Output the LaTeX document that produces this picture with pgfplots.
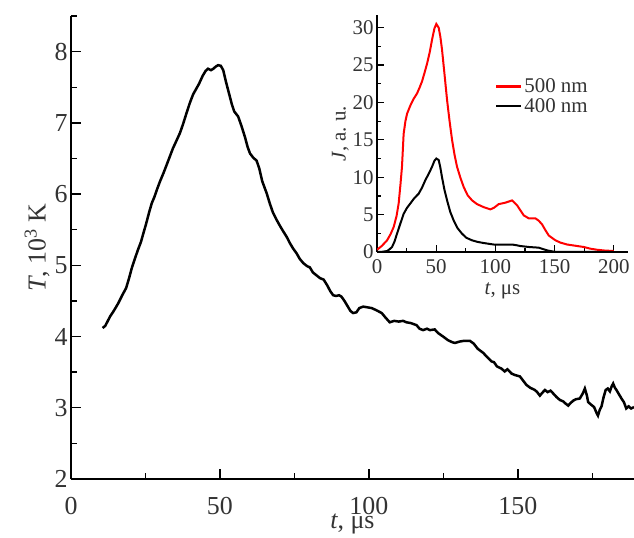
\documentclass[border=0pt]{standalone}
\usepackage{pgfplots}
\pgfplotsset{compat=1.18}
\usepackage{fontspec}
\setmainfont{Liberation Serif}
\begin{document}
\begin{tikzpicture}
\begin{axis}[
  name=main, at={(0,0)}, anchor=south west,
  scale only axis, width=563bp, height=463bp,
  xmin=0, xmax=189, ymin=2, ymax=8.5,
  axis x line*=bottom, axis y line*=left,
  axis line style={line width=1.6bp, -},
  tick align=inside, major tick length=10bp, minor tick length=6bp,
  every tick/.style={line width=1.4bp, black},
  xtick={0,50,100,150}, minor xtick={25,75,125,175},
  ytick={2,3,4,5,6,7,8}, minor ytick={2.5,3.5,4.5,5.5,6.5,7.5,8.5},
  /pgf/number format/assume math mode=true,
  tick label style={font=\fontsize{26}{28}\selectfont, text=black!80},
  xticklabel style={inner sep=2bp, yshift=-16bp},
  label style={font=\fontsize{26}{28}\selectfont, text=black!80},
  xlabel={\textit{t}, μs},
  ylabel={\textit{T}, 10\textsuperscript{3} K},
  xlabel style={inner sep=1bp, yshift=4bp},
  ylabel style={yshift=-2bp},
]
\addplot[black, line width=2.5bp] coordinates {
(10.6,4.12) (11.5,4.15) (13.1,4.28) (14.5,4.37) (15.9,4.47) (17.2,4.58) (18.5,4.68) (19.5,4.82)
(20.4,4.96) (21.5,5.10) (22.5,5.22) (23.5,5.33) (24.3,5.45) (25.2,5.58) (26.2,5.74) (27.1,5.87)
(28.0,5.96) (29.0,6.08) (29.9,6.18) (31.0,6.29) (32.2,6.42) (33.2,6.53) (34.2,6.64) (35.3,6.74)
(36.6,6.86) (37.6,6.98) (38.8,7.14) (39.9,7.28) (41.0,7.40) (42.2,7.49) (43.0,7.55) (44.2,7.66)
(45.2,7.73) (46.0,7.76) (47.0,7.74) (47.8,7.76) (48.6,7.79) (49.4,7.81) (50.3,7.80) (51.1,7.74)
(52.0,7.58) (53.0,7.42) (54.0,7.26) (54.8,7.16) (56.1,7.09) (57.2,6.96) (58.4,6.80) (59.3,6.66)
(60.1,6.57) (61.2,6.51) (62.3,6.47) (63.2,6.36) (64.2,6.18) (65.7,6.01) (66.8,5.86) (67.8,5.74)
(69.0,5.64) (70.2,5.55) (71.2,5.48) (72.4,5.40) (73.5,5.31) (74.5,5.24) (75.7,5.17) (76.8,5.09)
(78.0,5.03) (79.2,4.99) (80.2,4.97) (81.2,4.90) (82.4,4.86) (83.6,4.82) (84.8,4.80) (86.0,4.72)
(87.0,4.64) (88.0,4.58) (89.0,4.57) (90.0,4.58) (90.8,4.56) (91.8,4.50) (92.8,4.43) (93.8,4.36)
(94.7,4.33) (95.8,4.34) (96.8,4.40) (98.1,4.42) (99.5,4.41) (100.9,4.40) (102.5,4.37) (104.3,4.33)
(105.5,4.27) (107.0,4.20) (108.5,4.22) (110.0,4.21) (111.5,4.22) (112.6,4.20) (114.0,4.19) (116.0,4.16)
(117.0,4.11) (118.2,4.09) (119.5,4.11) (120.5,4.09) (122.1,4.10) (123.2,4.05) (124.9,4.00) (126.5,3.95)
(128.0,3.92) (128.9,3.91) (130.5,3.93) (132.0,3.94) (133.9,3.94) (135.2,3.90) (136.5,3.83) (138.4,3.77)
(139.5,3.72) (141.2,3.65) (142.0,3.64) (143.0,3.58) (144.5,3.55) (145.6,3.51) (146.5,3.54) (147.9,3.48)
(149.0,3.46) (150.7,3.44) (151.8,3.38) (152.9,3.32) (154.2,3.28) (155.7,3.25) (156.5,3.22) (157.4,3.17)
(158.2,3.21) (159.1,3.25) (160.0,3.22) (161.0,3.24) (161.9,3.20) (163.0,3.15) (164.1,3.11) (165.2,3.09)
(166.0,3.06) (166.9,3.03) (167.8,3.07) (168.6,3.10) (169.5,3.12) (170.8,3.13) (171.8,3.20) (172.5,3.27)
(173.2,3.17) (173.6,3.08) (174.7,3.04) (175.6,3.01) (176.4,2.93) (176.9,2.89) (177.5,2.97) (178.1,3.02)
(178.8,3.15) (179.5,3.25) (180.2,3.27) (180.9,3.23) (181.5,3.30) (182.0,3.34) (182.6,3.28) (183.1,3.25)
(183.8,3.20) (184.8,3.13) (185.6,3.08) (186.4,2.99) (187.2,3.02) (188.0,2.99) (189.0,3.01)
};
\end{axis}
\begin{axis}[
  name=inset, at={(306bp,227bp)}, anchor=south west,
  scale only axis, width=251bp, height=237bp,
  xmin=0, xmax=212, ymin=0, ymax=31.7,
  axis x line*=bottom, axis y line*=left,
  axis line style={line width=1.4bp, -},
  tick align=inside, major tick length=7bp, minor tick length=4bp,
  every tick/.style={line width=1.2bp, black},
  xtick={0,50,100,150,200}, minor xtick={25,75,125,175},
  ytick={0,5,10,15,20,25,30}, minor ytick={2.5,7.5,12.5,17.5,22.5,27.5},
  /pgf/number format/assume math mode=true,
  tick label style={font=\fontsize{21}{22}\selectfont, text=black!80},
  xticklabel style={yshift=-4bp},
  label style={font=\fontsize{21}{22}\selectfont, text=black!80},
  xlabel={\textit{t}, μs},
  ylabel={\textit{J}, a.\ u.},
  xlabel style={yshift=-2bp},
  ylabel style={yshift=-3bp},
  legend style={draw=none, fill=none, at={(0.47,0.74)}, anchor=north west,
    font=\fontsize{21}{22}\selectfont, text=black!80, row sep=0bp, inner sep=0bp},
  legend cell align=left,
  legend image code/.code={\draw[#1, line width=2.2bp] (0bp,0bp) -- (25bp,0bp);},
]
\addplot[red, line width=2bp] coordinates {
(0,0.3) (4,0.8) (8.5,1.56) (11.5,2.4) (14.1,3.35) (16.5,4.8) (18.3,6.5) (19.8,9.0) (21.1,11.4)
(22.5,15.8) (24.0,17.5) (25.4,18.5) (28.2,19.6) (31,20.5) (33.8,21.2) (36,22.0) (38.0,22.8)
(40.2,24.0) (42.3,25.2) (44.5,26.7) (46.5,28.4) (48.5,29.9) (50.1,30.5) (52.1,30.0) (53.5,28.8)
(54.9,27.1) (57,23.8) (59.2,20.3) (61.3,17.5) (63.4,15.0) (65.5,13.0) (67.6,11.4) (70.5,9.9)
(73.2,8.7) (76.5,7.6) (80.3,6.9) (84.5,6.4) (90.1,6.0) (95.8,5.7) (98.6,5.9) (102.8,6.4)
(108.5,6.6) (114.1,6.9) (118.3,6.25) (121,5.6) (123.9,4.9) (128.2,4.5) (133.8,4.5) (136.5,4.2)
(139.4,3.7) (142.3,2.9) (145.1,2.2) (150.7,1.56) (155,1.25) (160.6,1.0) (167,0.85) (174.6,0.67)
(180,0.45) (185.9,0.3) (192,0.2) (200,0.13)
};
\addlegendentry{500 nm}
\addplot[black, line width=2bp] coordinates {
(0,0) (4,0.02) (8.5,0.13) (10.5,0.35) (12.7,0.67) (14.8,1.4) (16.9,2.45) (19.5,3.7) (22.5,5.1)
(25.3,5.9) (28.2,6.5) (31.5,7.2) (35.2,7.8) (38,8.6) (40.8,9.6) (43.8,10.5) (46.5,11.4)
(48.5,12.2) (50.1,12.5) (52.1,12.3) (53.5,11.3) (54.9,10.0) (57,8.3) (59.2,6.9) (61.8,5.4)
(64.8,4.2) (68,3.2) (71.8,2.45) (75.5,1.9) (80.3,1.56) (85,1.35) (90.1,1.2) (98.6,1.0)
(106,1.0) (114.1,1.0) (118,0.9) (121.1,0.8) (128.2,0.67) (136.6,0.58) (140,0.4) (143.7,0.22)
(148,0.08) (152.1,0) (170,0) (200,0)
};
\addlegendentry{400 nm}
\end{axis}
\pgfresetboundingbox
\path[use as bounding box] (-71bp,-59bp) rectangle (563bp,479bp);
\end{tikzpicture}
\end{document}
